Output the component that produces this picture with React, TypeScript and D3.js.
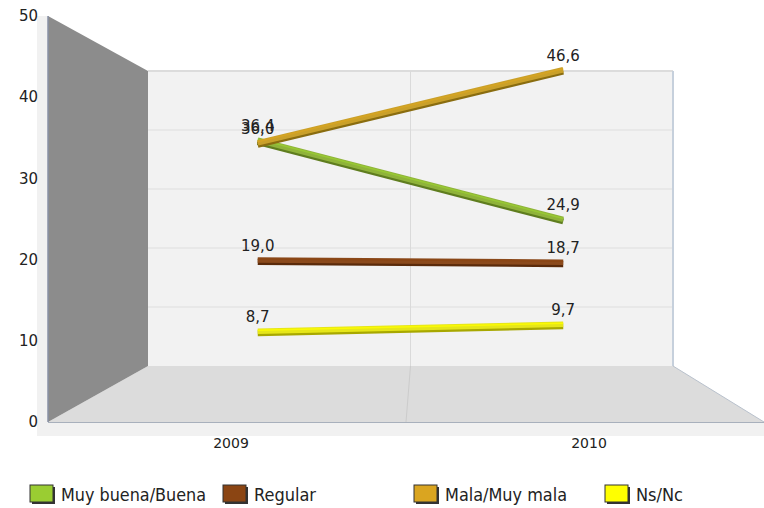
import React from 'react';
import * as d3 from 'd3';

const categories = ['2009', '2010'];
const seriesNames = ['Muy buena/Buena', 'Regular', 'Mala/Muy mala', 'Ns/Nc'];
const muyBuena = [36.4, 24.9];
const regular = [19.0, 18.7];
const mala = [36.0, 46.6];
const nsnc = [8.7, 9.7];
const yTicks = [0, 10, 20, 30, 40, 50];

const colors = ['#9acd32', '#8b4513', '#daa520', '#ffff00'];
const lineColors = ['#8fb33a', '#8b4a1c', '#c9a02a', '#e6e619'];
const darkColors = ['#5f7d1f', '#5a2a0a', '#8a6d10', '#a8a800'];

const W = 764;
const H = 508;
const fmt = (v: number) => d3.format('.1f')(v).replace('.', ',');

const App: React.FC = () => {
  const values = [muyBuena, regular, mala, nsnc];

  // front plane and back plane of the 3D box
  const yFront = d3.scaleLinear().domain([0, 50]).range([422, 16]);
  const yBack = d3.scaleLinear().domain([0, 50]).range([366, 71]);
  const xFront = d3.scaleBand().domain(categories).range([48, 764]);
  const xBack = d3.scaleBand().domain(categories).range([148, 673]);
  const depth = 0.55;

  const px = (c: string) => {
    const f = (xFront(c) || 0) + xFront.bandwidth() / 2;
    const b = (xBack(c) || 0) + xBack.bandwidth() / 2;
    return f + (b - f) * depth + 2;
  };
  const py = (v: number) => yFront(v) + (yBack(v) - yFront(v)) * depth;

  const line = d3.line<number>()
    .x((_, i) => px(categories[i]))
    .y(d => py(d));

  const fl = yFront(0), bl = yBack(0), bt = yBack(50), ft = yFront(50);
  const [fx0, fx1] = xFront.range();
  const [bx0, bx1] = xBack.range();
  const midF = (fx0 + fx1) / 2, midB = (bx0 + bx1) / 2;

  const legendX = [30, 223, 414, 605];
  const legendW = [145, 62, 122, 47];

  return (
    <svg width={W} height={H} style={{ position: 'absolute', left: 0, top: 0, background: '#fff' }}
      fontFamily="'DejaVu Sans', Verdana, sans-serif">
      {/* outer frame */}
      <rect x={37} y={ft} width={11} height={fl - ft + 14} fill="#f1f1f1" />
      <rect x={fx0} y={fl} width={fx1 - fx0} height={14} fill="#f1f1f1" />

      {/* back wall */}
      <rect x={bx0} y={bt} width={bx1 - bx0} height={bl - bt} fill="#f2f2f2" />
      {[10, 20, 30, 40].map(t => (
        <line key={t} x1={bx0} x2={bx1} y1={yBack(t)} y2={yBack(t)} stroke="#dedede" strokeWidth={1} />
      ))}
      <line x1={bx0} x2={bx1} y1={bt} y2={bt} stroke="#dcdcdc" strokeWidth={2} />
      <line x1={bx1} x2={bx1} y1={bt} y2={bl} stroke="#c6d0dc" strokeWidth={2} />

      {/* floor */}
      <polygon points={`${fx0},${fl} ${bx0},${bl} ${bx1},${bl} ${fx1},${fl}`} fill="#dcdcdc" />
      <line x1={bx1} y1={bl} x2={fx1} y2={fl} stroke="#b8c0cc" strokeWidth={1} />
      <line x1={fx0} x2={fx1} y1={fl + 0.5} y2={fl + 0.5} stroke="#a8b0bc" strokeWidth={1} />
      <line x1={midB} y1={bt} x2={midB} y2={bl} stroke="#dadada" strokeWidth={1} />
      <line x1={midB} y1={bl} x2={midF} y2={fl} stroke="#cccccc" strokeWidth={1} />

      {/* left wall */}
      <polygon points={`${fx0},${ft} ${bx0},${bt} ${bx0},${bl} ${fx0},${fl}`} fill="#8c8c8c" />
      <line x1={fx0} x2={fx0} y1={ft} y2={fl} stroke="#8890a4" strokeWidth={1.5} />

      {/* y tick labels */}
      {yTicks.map(t => (
        <text key={t} x={38} y={yFront(t)} dy="0.35em" textAnchor="end" fontSize={15} fill="#222">{t}</text>
      ))}

      {/* category labels */}
      {categories.map(c => (
        <text key={c} x={(xFront(c) || 0) + xFront.bandwidth() / 2 + 4} y={448} textAnchor="middle" fontSize={14} fill="#222">{c}</text>
      ))}

      {/* 3D-ish lines */}
      {values.map((v, i) => (
        <g key={seriesNames[i]}>
          <path d={line(v) || ''} transform="translate(0,2)" fill="none" stroke={darkColors[i]} strokeWidth={6} />
          <path d={line(v) || ''} fill="none" stroke={lineColors[i]} strokeWidth={5.5} />
          <path d={line(v) || ''} transform="translate(0,-1)" fill="none" stroke={colors[i]} strokeWidth={1.5} opacity={0.8} />
        </g>
      ))}

      {/* value labels */}
      {values.map((v, i) => v.map((d, j) => (
        <text key={`${i}-${j}`} x={px(categories[j])} y={py(d) - 9} textAnchor="middle" fontSize={15} fill="#222">{fmt(d)}</text>
      )))}

      {/* legend */}
      {legendX.map((lx, i) => (
        <g key={seriesNames[i]} transform={`translate(${lx},485)`}>
          <rect x={2} y={2} width={23} height={17} fill="#333" />
          <rect x={0} y={0} width={23} height={17} fill={colors[i]} stroke="#333" strokeWidth={1} />
          <text x={31} y={16} fontSize={17} fill="#222" textLength={legendW[i]} lengthAdjust="spacingAndGlyphs"
            fontFamily="'DejaVu Sans Condensed', 'DejaVu Sans', sans-serif">{seriesNames[i]}</text>
        </g>
      ))}
    </svg>
  );
};

export default App;
